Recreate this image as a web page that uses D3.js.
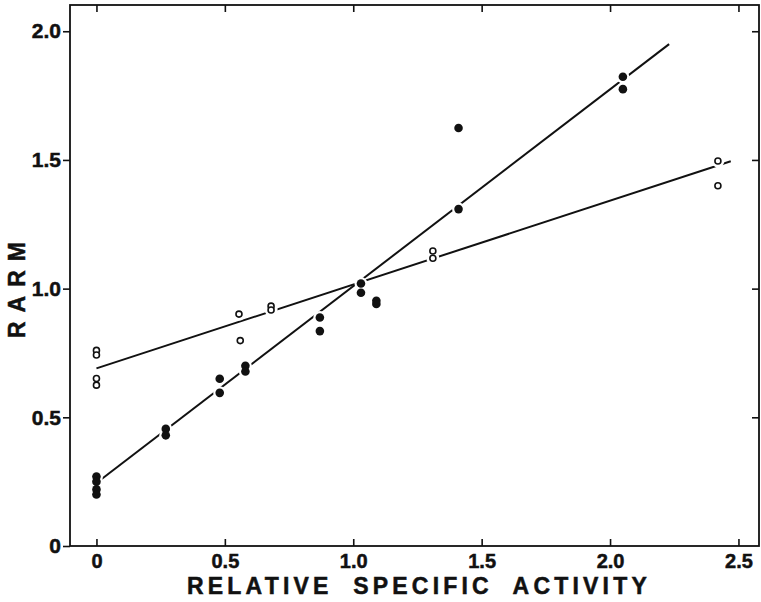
<!DOCTYPE html>
<html>
<head>
<meta charset="utf-8">
<script src="https://cdn.jsdelivr.net/npm/d3@7"></script>
<style>
  body { margin: 0; background: #fff; }
  text { font-family: "Liberation Sans", Arial, sans-serif; font-weight: bold; fill: #111; stroke: #111; stroke-width: 0.5px; }
</style>
</head>
<body>
<div id="chart"></div>
<script>
// filled circles
var filledX = [0, 0, 0, 0, 0.27, 0.27, 0.48, 0.48, 0.58, 0.58, 0.87, 0.87, 1.03, 1.03, 1.09, 1.09, 1.41, 1.41, 2.05, 2.05];
var filledY = [0.27, 0.25, 0.22, 0.20, 0.455, 0.43, 0.65, 0.595, 0.70, 0.678, 0.888, 0.835, 1.02, 0.984, 0.953, 0.94, 1.624, 1.309, 1.823, 1.775];
// open circles
var openX = [0, 0, 0, 0, 0.555, 0.56, 0.68, 0.68, 1.31, 1.31, 2.42, 2.42];
var openY = [0.76, 0.742, 0.651, 0.625, 0.901, 0.798, 0.932, 0.917, 1.146, 1.118, 1.496, 1.40];
// fitted lines (end points)
var filledLineX = [0, 2.23];
var filledLineY = [0.245, 1.95];
var openLineX = [0, 2.47];
var openLineY = [0.69, 1.495];
// ticks
var xTicks = [0, 0.5, 1.0, 1.5, 2.0, 2.5];
var yTicks = [0, 0.5, 1.0, 1.5, 2.0];

const width = 761, height = 602;
const svg = d3.select("#chart").append("svg")
  .attr("width", width)
  .attr("height", height);

const x = d3.scaleLinear().domain([-0.103, 2.58]).range([70, 759]);
const y = d3.scaleLinear().domain([0, 2.102]).range([546, 5]);
const fmt = d => d === 0 ? "0" : d3.format(".1f")(d);

// frame
svg.append("rect")
  .attr("x", x.range()[0]).attr("y", y.range()[1])
  .attr("width", x.range()[1] - x.range()[0])
  .attr("height", y.range()[0] - y.range()[1])
  .attr("fill", "none").attr("stroke", "#111").attr("stroke-width", 1.8);

// bottom axis, ticks pointing in
const gx = svg.append("g").attr("transform", `translate(0,${y(0)})`)
  .call(d3.axisBottom(x).tickValues(xTicks).tickFormat(fmt).tickSize(-7).tickPadding(8));
gx.selectAll("text").style("font-size", "20px");

// top axis ticks
svg.append("g").attr("transform", `translate(0,${y.range()[1]})`)
  .call(d3.axisTop(x).tickValues(xTicks).tickFormat("").tickSize(-7));

// left axis, ticks pointing out
const gy = svg.append("g").attr("transform", `translate(${x.range()[0]},0)`)
  .call(d3.axisLeft(y).tickValues(yTicks).tickFormat(fmt).tickSize(7).tickPadding(2));
gy.selectAll("text").style("font-size", "21px");

// right axis ticks
svg.append("g").attr("transform", `translate(${x.range()[1]},0)`)
  .call(d3.axisRight(y).tickValues(yTicks.filter(d => d > 0)).tickFormat("").tickSize(-7));

svg.selectAll(".domain").remove();
svg.selectAll(".tick line").attr("stroke", "#111").attr("stroke-width", 1.6);

// fitted lines
const line = d3.line().x(d => x(d[0])).y(d => y(d[1]));
svg.append("path")
  .attr("d", line(d3.zip(filledLineX, filledLineY)))
  .attr("fill", "none").attr("stroke", "#111").attr("stroke-width", 2);
svg.append("path")
  .attr("d", line(d3.zip(openLineX, openLineY)))
  .attr("fill", "none").attr("stroke", "#111").attr("stroke-width", 2);

// white halos so the lines break around the points
const filled = d3.zip(filledX, filledY);
const open = d3.zip(openX, openY);
svg.append("g").selectAll("circle")
  .data(filled.concat(open))
  .enter().append("circle")
  .attr("cx", d => x(d[0])).attr("cy", d => y(d[1]))
  .attr("r", 6.5).attr("fill", "#fff");

svg.append("g").selectAll("circle")
  .data(filled)
  .enter().append("circle")
  .attr("cx", d => x(d[0])).attr("cy", d => y(d[1]))
  .attr("r", 4.3).attr("fill", "#111");

svg.append("g").selectAll("circle")
  .data(open)
  .enter().append("circle")
  .attr("cx", d => x(d[0])).attr("cy", d => y(d[1]))
  .attr("r", 3).attr("fill", "#fff").attr("stroke", "#111").attr("stroke-width", 1.6);

// axis titles
svg.append("text")
  .attr("x", 187).attr("y", 594)
  .style("font-size", "23px")
  .style("letter-spacing", "4.2px")
  .style("word-spacing", "10px")
  .text("RELATIVE SPECIFIC ACTIVITY");

svg.append("text")
  .attr("transform", "translate(25,338) rotate(-90)")
  .style("font-size", "23px")
  .style("letter-spacing", "9px")
  .text("RARM");
</script>
</body>
</html>
